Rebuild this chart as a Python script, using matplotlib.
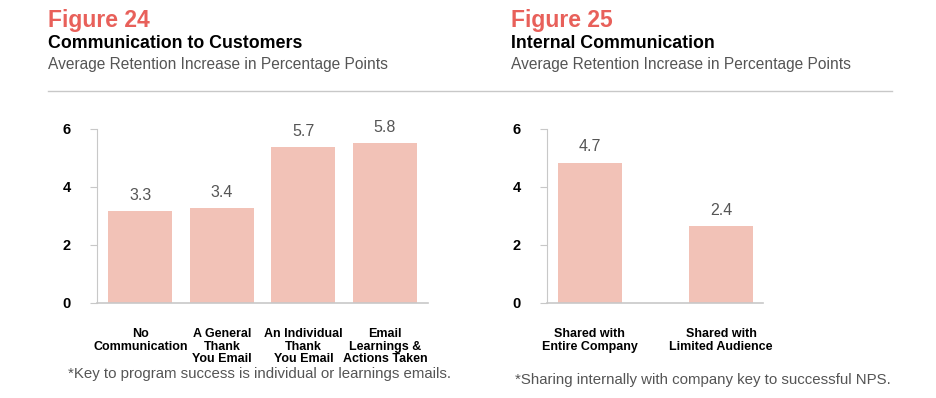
import matplotlib
matplotlib.use('Agg')
import matplotlib.pyplot as plt

plt.rcParams['font.family'] = ['Liberation Sans', 'DejaVu Sans']

# figure 24 data
cats_24 = ['No\nCommunication', 'A General\nThank\nYou Email', 'An Individual\nThank\nYou Email',
           'Email\nLearnings &\nActions Taken']
heights_24 = [3.17, 3.26, 5.37, 5.51]   # bar heights as drawn
labels_24 = ['3.3', '3.4', '5.7', '5.8']  # printed values

# figure 25 data
cats_25 = ['Shared with\nEntire Company', 'Shared with\nLimited Audience']
heights_25 = [4.84, 2.65]
labels_25 = ['4.7', '2.4']

yticks = [0, 2, 4, 6]

W, H = 936, 398
bar_col = '#F2C2B7'
red = '#E8605A'
grey_txt = '#555555'
spine_col = '#c8c8c8'

fig = plt.figure(figsize=(W / 100, H / 100), dpi=100)


def px_axes(x0, x1, ytop, ybot):
    return fig.add_axes([x0 / W, 1 - ybot / H, (x1 - x0) / W, (ybot - ytop) / H])


def draw(ax, cats, heights, labels, xlim, width):
    xs = list(range(len(cats)))
    ax.bar(xs, heights, width=width, color=bar_col, zorder=2)
    for x, h, l in zip(xs, heights, labels):
        ax.annotate(l, (x, h), xytext=(0, 6), textcoords='offset points',
                    ha='center', va='bottom', fontsize=11.5, color=grey_txt)
    ax.set_xlim(*xlim)
    ax.set_ylim(0, 6)
    ax.set_yticks(yticks)
    ax.set_yticklabels([str(t) for t in yticks], fontsize=10.5, fontweight='bold')
    ax.set_xticks(xs)
    ax.set_xticklabels(cats, fontsize=9, fontweight='bold', linespacing=1.1)
    ax.tick_params(axis='y', length=5, width=0.8, color=spine_col, pad=14)
    ax.tick_params(axis='x', length=0, pad=18)
    for s in ['top', 'right']:
        ax.spines[s].set_visible(False)
    ax.spines['left'].set_color(spine_col)
    ax.spines['bottom'].set_color(spine_col)
    ax.spines['left'].set_linewidth(0.8)
    ax.spines['bottom'].set_linewidth(1.2)
    ax.patch.set_visible(False)


ax1 = px_axes(97, 428, 129, 302.7)
draw(ax1, cats_24, heights_24, labels_24, (-0.531, 3.527), 0.785)

ax2 = px_axes(547, 762.7, 129, 302.7)
draw(ax2, cats_25, heights_25, labels_25, (-0.324, 1.315), 0.486)

# headers
def header(x, fig_no, title):
    fig.text(x / W, 1 - 20 / H, fig_no, fontsize=16.5, fontweight='bold', color=red, va='center')
    fig.text(x / W, 1 - 44 / H, title, fontsize=12.8, fontweight='bold', color='black', va='center')
    fig.text(x / W, 1 - 65 / H, 'Average Retention Increase in Percentage Points',
             fontsize=11.2, color=grey_txt, va='center')


header(48, 'Figure 24', 'Communication to Customers')
header(511, 'Figure 25', 'Internal Communication')

fig.add_artist(plt.Line2D([48 / W, 892 / W], [1 - 91 / H, 1 - 91 / H], color='#c8c8c8', lw=1))

fig.text(68 / W, 1 - 374 / H, '*Key to program success is individual or learnings emails.',
         fontsize=10.8, color=grey_txt, va='center')
fig.text(515 / W, 1 - 380 / H, '*Sharing internally with company key to successful NPS.',
         fontsize=10.8, color=grey_txt, va='center')

fig.savefig('out.png', dpi=100, facecolor='white')
